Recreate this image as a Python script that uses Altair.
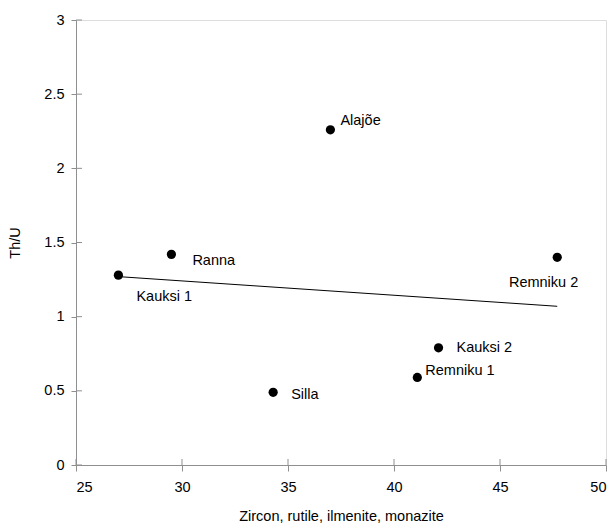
import altair as alt
import pandas as pd

names = ["Kauksi 1", "Ranna", "Silla", "Alajõe", "Remniku 1", "Kauksi 2", "Remniku 2"]
zircon = [27.0, 29.5, 34.3, 37.0, 41.1, 42.1, 47.7]
thu = [1.28, 1.42, 0.49, 2.26, 0.59, 0.79, 1.40]

trend_x = [27.0, 47.7]
trend_y = [1.27, 1.07]

x_ticks = [25, 30, 35, 40, 45, 50]
y_ticks = [0, 0.5, 1, 1.5, 2, 2.5, 3]

df = pd.DataFrame({"name": names, "x": zircon, "y": thu})
trend = pd.DataFrame({"x": trend_x, "y": trend_y})
xt = pd.DataFrame({"v": x_ticks})
yt = pd.DataFrame({"v": y_ticks})

W, H = 530, 445
FONT = "Liberation Sans"
AXC = "#8f8f8f"

xscale = alt.Scale(domain=[25, 50], nice=False, zero=False)
yscale = alt.Scale(domain=[0, 3], nice=False)

xaxis = alt.Axis(values=x_ticks, grid=False, tickSize=6, labelPadding=9, domainColor=AXC,
                 tickColor=AXC, labelFont=FONT, labelFontSize=14.5, labelColor="#000",
                 format="~g",
                 title="Zircon, rutile, ilmenite, monazite", titleFont=FONT, titleFontSize=14.5,
                 titleFontWeight="normal", titleColor="#000", titleX=W / 2, titleY=51,
                 titleBaseline="middle", titleAnchor="middle", titleAlign="center")
yaxis = alt.Axis(values=y_ticks, grid=False, tickSize=5, labelPadding=7, domainColor=AXC,
                 tickColor=AXC, labelFont=FONT, labelFontSize=14.5, labelColor="#000",
                 format="~g",
                 title="Th/U", titleFont=FONT, titleFontSize=14.5, titleFontWeight="normal",
                 titleColor="#000", titleX=-61, titleY=H / 2, titleBaseline="middle",
                 titleAlign="center", titleAngle=270)

points = alt.Chart(df).mark_point(filled=True, color="black", size=85, opacity=1).encode(
    x=alt.X("x:Q", scale=xscale, axis=xaxis),
    y=alt.Y("y:Q", scale=yscale, axis=yaxis),
)

line = alt.Chart(trend).mark_line(color="black", strokeWidth=1).encode(
    x=alt.X("x:Q", scale=xscale), y=alt.Y("y:Q", scale=yscale)
)

xin = alt.Chart(xt).mark_rule(color=AXC).encode(
    x=alt.X("v:Q", scale=xscale), y=alt.value(H - 6), y2=alt.value(H)
)
yin = alt.Chart(yt).mark_rule(color=AXC).encode(
    y=alt.Y("v:Q", scale=yscale), x=alt.value(0), x2=alt.value(6)
)

label_style = {
    "Alajõe": ("left", 10, -9),
    "Ranna": ("left", 21, 7),
    "Kauksi 1": ("left", 18, 22),
    "Remniku 2": ("right", 21, 26),
    "Kauksi 2": ("left", 18, 0),
    "Remniku 1": ("left", 8, -6),
    "Silla": ("left", 18, 3),
}

texts = []
for n in names:
    al, dx, dy = label_style[n]
    texts.append(
        alt.Chart(df).transform_filter(alt.datum.name == n).mark_text(
            align=al, baseline="middle", dx=dx, dy=dy, font=FONT, fontSize=14.5, color="black"
        ).encode(x=alt.X("x:Q", scale=xscale), y=alt.Y("y:Q", scale=yscale), text="name:N")
    )

chart = alt.layer(xin, yin, line, points, *texts).properties(
    width=W, height=H,
    autosize=alt.AutoSizeParams(type="none"),
    padding={"left": 76, "top": 20, "right": 9, "bottom": 65},
).configure_view(stroke=AXC, strokeWidth=1).configure(background="white")

chart.save("out.html", embed_options={"renderer": "svg", "actions": False})
